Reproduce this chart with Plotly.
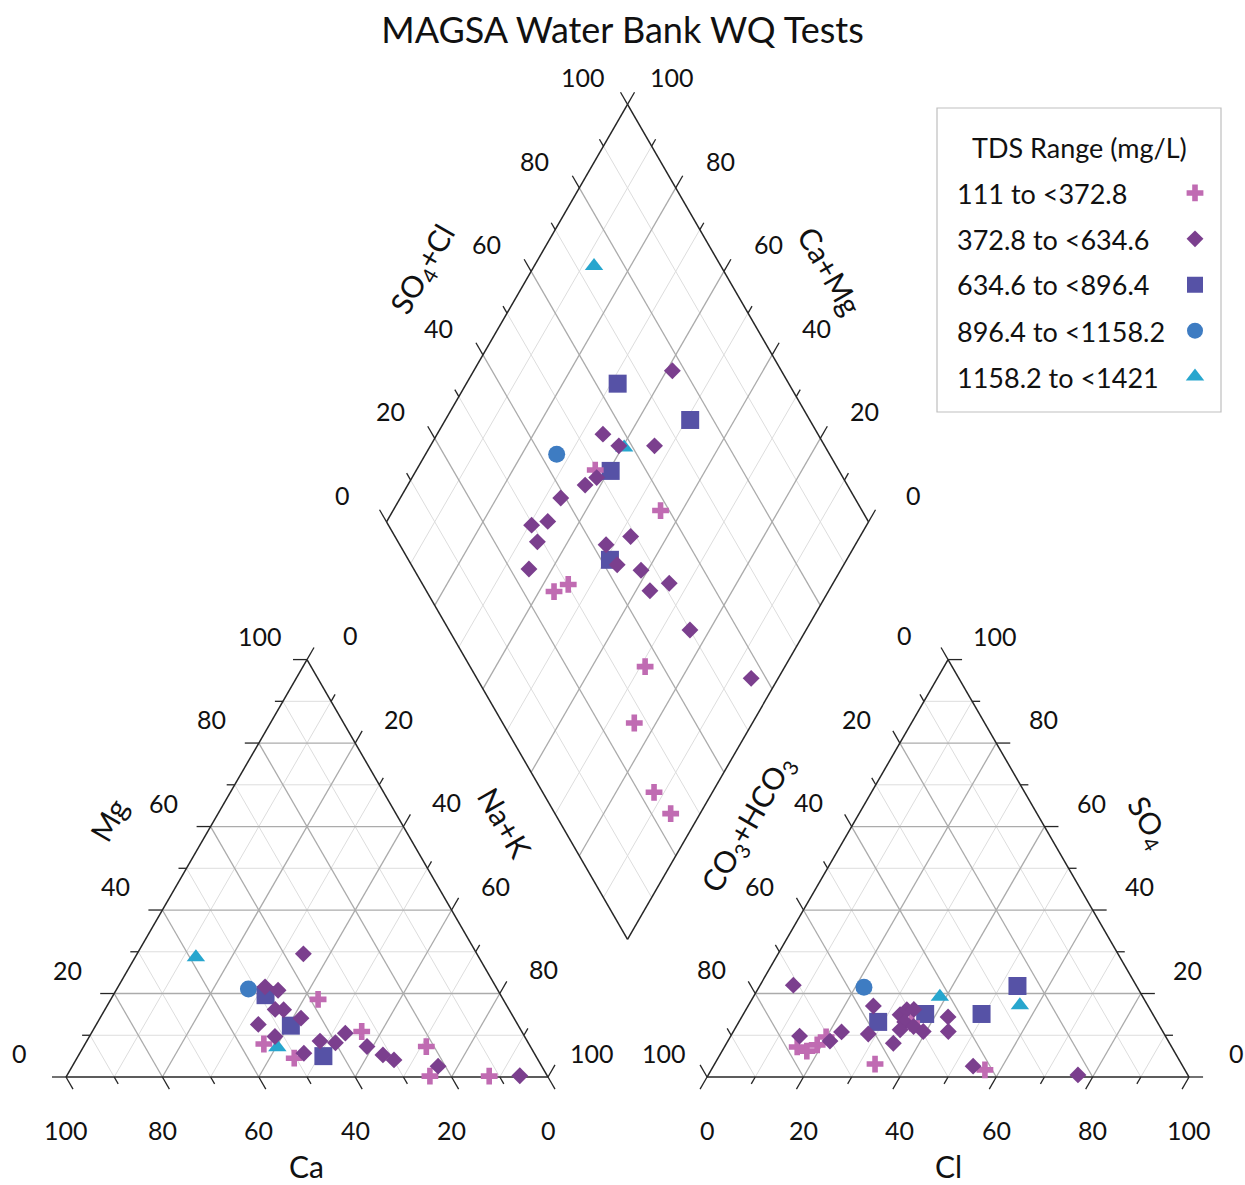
import numpy as np
import plotly.graph_objects as go

# ------------------------------------------------------------------ data
TITLE = "MAGSA Water Bank WQ Tests"
LEGEND_TITLE = "TDS Range (mg/L)"
TDS_CLASSES = ["111 to <372.8", "372.8 to <634.6", "634.6 to <896.4",
               "896.4 to <1158.2", "1158.2 to <1421"]
TICK_VALUES = [0, 20, 40, 60, 80, 100]

# Cation triangle (% meq/L): class id (1..5 -> TDS_CLASSES), Ca, Mg, Na+K
cation_tds = [1, 1, 1, 1, 1, 1, 1,
              2, 2, 2, 2, 2, 2, 2, 2, 2, 2, 2, 2, 2, 2, 2, 2, 2,
              3, 3, 3,
              4,
              5, 5]
cation_ca = [38.4, 55.0, 50.4, 33.2, 21.6, 24.4, 12.1,
             36.0, 47.9, 45.6, 48.5, 46.8, 53.8, 44.2, 51.8, 47.8, 43.0, 40.0, 36.8, 33.9, 31.6, 29.9, 21.5, 5.7,
             48.8, 47.2, 44.1,
             51.6,
             58.7, 52.6]
cation_mg = [18.6, 7.9, 4.5, 10.9, 7.3, 0.2, 0.2,
             29.5, 21.6, 20.8, 16.2, 16.1, 12.6, 14.1, 9.7, 5.7, 8.6, 8.2, 10.5, 7.3, 5.3, 4.1, 2.6, 0.3,
             19.6, 12.3, 5.0,
             21.1,
             28.7, 7.1]
cation_nak = [43.0, 37.1, 45.1, 55.9, 71.1, 75.4, 87.7,
              34.5, 30.5, 33.6, 35.3, 37.1, 33.6, 41.7, 38.5, 46.5, 48.4, 51.8, 52.7, 58.8, 63.1, 66.0, 75.9, 94.0,
              31.6, 40.5, 50.9,
              27.3,
              12.6, 40.3]

# Anion triangle (% meq/L): class id, CO3+HCO3, SO4, Cl
anion_tds = [1, 1, 1, 1, 1, 1, 1,
             2, 2, 2, 2, 2, 2, 2, 2, 2, 2, 2, 2, 2, 2, 2, 2, 2, 2,
             3, 3, 3, 3,
             4,
             5, 5]
anion_co3 = [77.7, 76.2, 73.3, 70.5, 63.6, 51.1, 41.5,
             71.1, 75.9, 70.2, 66.7, 57.0, 61.4, 57.3, 52.5, 50.5, 49.0, 52.4, 54.3, 51.1, 49.7, 42.8, 44.5, 43.5, 22.8,
             57.9, 47.2, 35.5, 24.7,
             56.7,
             42.1, 26.5]
anion_so4 = [7.2, 6.2, 7.7, 9.6, 3.1, 12.9, 1.7,
             22.0, 9.8, 8.6, 10.8, 17.0, 10.3, 8.1, 14.9, 16.1, 16.2, 13.2, 11.3, 12.1, 10.9, 14.4, 10.9, 2.6, 0.5,
             13.2, 15.1, 15.1, 21.8,
             21.5,
             19.2, 17.2]
anion_cl = [15.1, 17.6, 19.0, 19.9, 33.3, 36.0, 56.8,
            6.9, 14.3, 21.2, 22.5, 26.0, 28.3, 34.6, 32.6, 33.4, 34.8, 34.4, 34.4, 36.8, 39.4, 42.8, 44.6, 53.9, 76.7,
            28.9, 37.7, 49.4, 53.5,
            21.8,
            38.7, 56.3]

# Central diamond (%): class id, Ca+Mg, SO4+Cl
diamond_tds = [1, 1, 1, 1, 1, 1, 1, 1,
               2, 2, 2, 2, 2, 2, 2, 2, 2, 2, 2, 2, 2, 2, 2, 2, 2, 2, 2,
               3, 3, 3, 3,
               4,
               5, 5]
diamond_camg = [62.9, 44.5, 56.9, 54.8, 29.0, 24.5, 12.1, 6.1,
                58.8, 65.6, 60.9, 53.5, 61.7, 63.2, 66.7, 69.5, 66.6, 66.3, 47.6, 51.7, 47.0, 64.8, 41.4, 34.0, 37.1, 24.1, 5.6,
                68.6, 49.2, 59.6, 49.1,
                72.8,
                87.6, 59.6]
diamond_so4cl = [49.5, 58.2, 26.4, 30.2, 36.3, 27.3, 23.1, 24.0,
                 77.4, 55.4, 57.3, 64.7, 48.9, 45.6, 39.0, 29.7, 33.5, 28.9, 48.9, 42.8, 42.7, 23.9, 47.0, 51.3, 46.4, 50.0, 56.9,
                 64.5, 75.2, 52.6, 41.8,
                 43.4,
                 73.7, 58.2]

# ------------------------------------------------------------------ styles / layout
W, H = 1245, 1185
PX = 4.82            # pixels per percent unit (triangle side = 100 units)
X0, Y0 = 66, 1077    # pixel position of cation triangle bottom-left corner
GAP = 33             # gap between the two triangles (units)
S3 = np.sqrt(3) / 2
AX = 100 + GAP       # x offset of anion triangle
BOT = (100 + GAP / 2, GAP / 2 * np.sqrt(3))  # diamond bottom vertex

FONT = "Lato"
TXT = "#111111"
EDGE = "#262626"
MAJOR = "#ABABAB"
MINOR = "#DDDDDD"
TICK_FS = 25
TITLE_FS = 36
AXTITLE_FS = 30
LEG_FS = 27

SYMBOLS = {1: "cross", 2: "diamond", 3: "square", 4: "circle", 5: "triangle-up"}
COLORS = {1: "#C06BB2", 2: "#7B3F8E", 3: "#5652A6", 4: "#3E7CC2", 5: "#27A6CE"}
SIZES = {1: 14, 2: 13, 3: 18, 4: 17, 5: 16}
DRAW_ORDER = [5, 4, 3, 1, 2]


def cat_xy(ca, mg, nak):
    t = ca + mg + nak
    return 100 * (nak + mg / 2) / t, 100 * mg * S3 / t


def an_xy(co3, so4, cl):
    t = co3 + so4 + cl
    return AX + 100 * (cl + so4 / 2) / t, 100 * so4 * S3 / t


def dia_xy(camg, so4cl):
    return BOT[0] + 0.5 * (so4cl - camg), BOT[1] + S3 * (camg + so4cl)


fig = go.Figure()


def add_segments(segs, color, width):
    xs, ys = [], []
    for (p, q) in segs:
        xs += [p[0], q[0], None]
        ys += [p[1], q[1], None]
    fig.add_trace(go.Scatter(x=xs, y=ys, mode="lines", line=dict(color=color, width=width),
                             hoverinfo="skip", showlegend=False))


# grid lines
for major in (False, True):
    segs = []
    for k in range(10, 100, 10):
        if (k % 20 == 0) != major:
            continue
        segs += [(cat_xy(100 - k, k, 0), cat_xy(0, k, 100 - k)),
                 (cat_xy(100 - k, 0, k), cat_xy(0, 100 - k, k)),
                 (cat_xy(k, 0, 100 - k), cat_xy(k, 100 - k, 0)),
                 (an_xy(100 - k, k, 0), an_xy(0, k, 100 - k)),
                 (an_xy(100 - k, 0, k), an_xy(0, 100 - k, k)),
                 (an_xy(k, 0, 100 - k), an_xy(k, 100 - k, 0)),
                 (dia_xy(k, 0), dia_xy(k, 100)),
                 (dia_xy(0, k), dia_xy(100, k))]
    add_segments(segs, MAJOR if major else MINOR, 1.3 if major else 1.0)

# outlines
outline = []
for f in (cat_xy, an_xy):
    A, B, C = f(100, 0, 0), f(0, 100, 0), f(0, 0, 100)
    outline += [(A, B), (B, C), (C, A)]
D = [dia_xy(0, 0), dia_xy(100, 0), dia_xy(100, 100), dia_xy(0, 100)]
outline += [(D[0], D[1]), (D[1], D[2]), (D[2], D[3]), (D[3], D[0])]
add_segments(outline, EDGE, 1.5)

# axes: base point function, outward tick direction, label shift (px)
AXES = {
    "mg": (lambda k: cat_xy(100 - k, k, 0), (-1, 0), (-47, 24)),
    "nak": (lambda k: cat_xy(0, 100 - k, k), (0.5, S3), (43.5, 24.5)),
    "ca": (lambda k: cat_xy(k, 0, 100 - k), (0.5, -S3), (0, -53)),
    "co3": (lambda k: an_xy(k, 100 - k, 0), (-0.5, S3), (-43.5, 24.5)),
    "so4": (lambda k: an_xy(0, k, 100 - k), (1, 0), (47, 24)),
    "cl": (lambda k: an_xy(100 - k, 0, k), (-0.5, -S3), (0, -53)),
    "so4cl": (lambda k: dia_xy(100, k), (-0.5, S3), (-44.5, 27)),
    "camg": (lambda k: dia_xy(k, 100), (0.5, S3), (44.5, 27)),
}
ticks = []
annotations = []
for name, (base, d, shift) in AXES.items():
    for k in range(0, 101, 10):
        p = base(k)
        L = (14 if k % 20 == 0 else 8) / PX
        ticks.append((p, (p[0] + d[0] * L, p[1] + d[1] * L)))
    for k in TICK_VALUES:
        p = base(k)
        annotations.append(dict(x=p[0], y=p[1], xref="x", yref="y", text=str(k), showarrow=False,
                                xshift=shift[0], yshift=shift[1],
                                font=dict(size=TICK_FS, family=FONT, color=TXT)))
add_segments(ticks, EDGE, 1.3)

# axis titles (pixel positions)
AXIS_TITLES = [
    ("Mg", 108, 820, -60), ("Na+K", 505, 822, 60), ("Ca", 306, 1166, 0),
    ("CO<sub>3</sub>+HCO<sub>3</sub>", 748, 824, -60), ("SO<sub>4</sub>", 1148, 822, 60), ("Cl", 948, 1166, 0),
    ("SO<sub>4</sub>+Cl", 423, 270, -60), ("Ca+Mg", 830, 270, 60),
]
for txt, px, py, ang in AXIS_TITLES:
    annotations.append(dict(x=px / W, y=1 - py / H, xref="paper", yref="paper", text=txt, showarrow=False,
                            textangle=ang, xanchor="center", yanchor="middle",
                            font=dict(size=AXTITLE_FS, family=FONT, color=TXT)))

# data points
for cls in DRAW_ORDER:
    xs, ys = [], []
    for t, a, b, c in zip(cation_tds, cation_ca, cation_mg, cation_nak):
        if t == cls:
            x, y = cat_xy(a, b, c); xs.append(x); ys.append(y)
    for t, a, b, c in zip(anion_tds, anion_co3, anion_so4, anion_cl):
        if t == cls:
            x, y = an_xy(a, b, c); xs.append(x); ys.append(y)
    for t, a, b in zip(diamond_tds, diamond_camg, diamond_so4cl):
        if t == cls:
            x, y = dia_xy(a, b); xs.append(x); ys.append(y)
    fig.add_trace(go.Scatter(x=xs, y=ys, mode="markers", name=" ", legendrank=cls,
                             hovertext=TDS_CLASSES[cls - 1],
                             marker=dict(symbol=SYMBOLS[cls], color=COLORS[cls], size=SIZES[cls],
                                         line=dict(width=0))))

# legend (symbols from plotly legend, texts as annotations to their left)
LEG_BOX = (937, 108, 1221, 412)
LEG_TEXT_X = 955
LEG_ROW_Y0, LEG_ROW_DY = 193, 46
LEG_SYM_X = 1195
annotations.append(dict(x=(LEG_BOX[0] + LEG_BOX[2]) / 2 / W, y=1 - 147 / H, xref="paper", yref="paper",
                        text=LEGEND_TITLE, showarrow=False, xanchor="center", yanchor="middle",
                        font=dict(size=LEG_FS, family=FONT, color=TXT)))
for i, lab in enumerate(TDS_CLASSES):
    annotations.append(dict(x=LEG_TEXT_X / W, y=1 - (LEG_ROW_Y0 + i * LEG_ROW_DY) / H, xref="paper", yref="paper",
                            text=lab, showarrow=False, xanchor="left", yanchor="middle",
                            font=dict(size=LEG_FS, family=FONT, color=TXT)))

fig.update_layout(
    width=W, height=H,
    margin=dict(l=0, r=0, t=0, b=0, pad=0, autoexpand=False),
    paper_bgcolor="white", plot_bgcolor="white",
    xaxis=dict(range=[-X0 / PX, (W - X0) / PX], visible=False, fixedrange=True),
    yaxis=dict(range=[-(H - Y0) / PX, Y0 / PX], visible=False, fixedrange=True),
    title=dict(text=TITLE, x=0.5, xanchor="center", y=1 - 30 / H, yanchor="middle", yref="container",
               font=dict(size=TITLE_FS, family=FONT, color=TXT)),
    showlegend=True,
    legend=dict(x=(LEG_SYM_X - 20) / W, xanchor="left", y=1 - (LEG_ROW_Y0 - 28) / H, yanchor="top",
                bgcolor="rgba(0,0,0,0)", borderwidth=0, font=dict(size=33, family=FONT),
                tracegroupgap=0, itemsizing="trace"),
    shapes=[dict(type="rect", xref="paper", yref="paper", x0=LEG_BOX[0] / W, x1=LEG_BOX[2] / W,
                 y0=1 - LEG_BOX[1] / H, y1=1 - LEG_BOX[3] / H, line=dict(color="#BFBFBF", width=1.2))],
    annotations=annotations,
    font=dict(family=FONT, color=TXT),
)

fig.write_html("out.html", config={"displayModeBar": False},
               post_script="document.body.style.margin='0';")
